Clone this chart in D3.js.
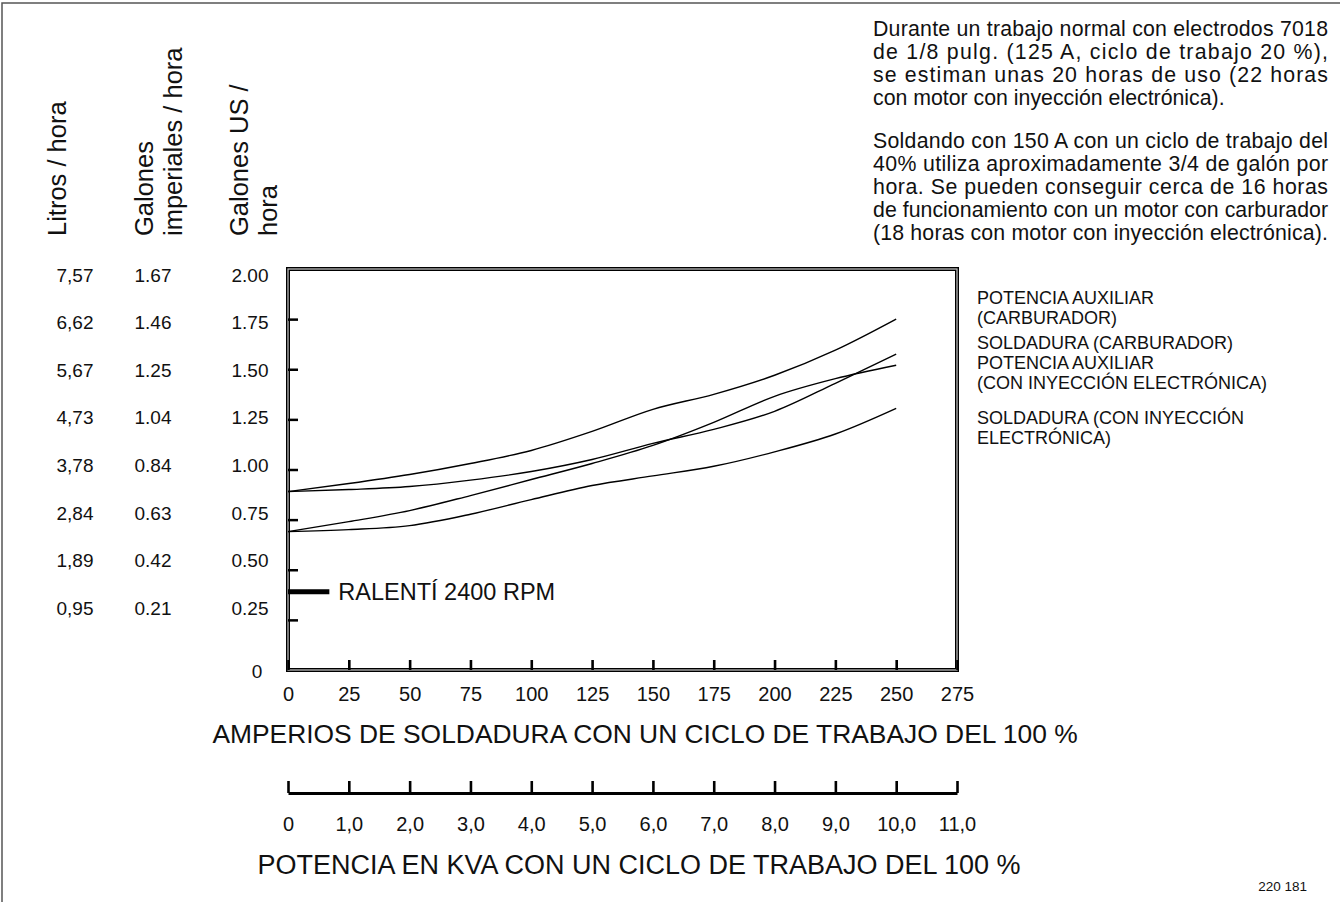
<!DOCTYPE html>
<html>
<head>
<meta charset="utf-8">
<script src="https://cdn.jsdelivr.net/npm/d3@7"></script>
<style>
  html, body { margin: 0; padding: 0; background: #fff; }
  svg { display: block; font-family: "Liberation Sans", Arial, sans-serif; }
</style>
</head>
<body>
<svg id="chart" width="1340" height="902"></svg>
<script>
// ---------------- DATA ----------------
const amps = [0, 25, 50, 75, 100, 125, 150, 175, 200, 225, 250];
const auxCarb   = [0.89, 0.93, 0.975, 1.03, 1.095, 1.19, 1.30, 1.375, 1.47, 1.595, 1.75];
const weldCarb  = [0.89, 0.90, 0.915, 0.947, 0.99, 1.05, 1.13, 1.20, 1.29, 1.43, 1.575];
const auxEfi    = [0.69, 0.74, 0.795, 0.87, 0.95, 1.03, 1.12, 1.235, 1.365, 1.453, 1.52];
const weldEfi   = [0.69, 0.70, 0.72, 0.777, 0.85, 0.92, 0.968, 1.016, 1.088, 1.177, 1.305];

const idleValue = 0.39;          // gal US / h
const idleAmps = [0, 17];
const idleLabel = "RALENTÍ 2400 RPM";

const ampTicks = [0, 25, 50, 75, 100, 125, 150, 175, 200, 225, 250, 275];
const kvaTicks = [0, 1, 2, 3, 4, 5, 6, 7, 8, 9, 10, 11];
const kvaLabels = ["0", "1,0", "2,0", "3,0", "4,0", "5,0", "6,0", "7,0", "8,0", "9,0", "10,0", "11,0"];

const usValues = [2.00, 1.75, 1.50, 1.25, 1.00, 0.75, 0.50, 0.25, 0];
const usLabels = ["2.00", "1.75", "1.50", "1.25", "1.00", "0.75", "0.50", "0.25", "0"];
const litrosLabels = ["7,57", "6,62", "5,67", "4,73", "3,78", "2,84", "1,89", "0,95"];
const impLabels = ["1.67", "1.46", "1.25", "1.04", "0.84", "0.63", "0.42", "0.21"];
const innerTicks = [0.25, 0.5, 0.75, 1.0, 1.25, 1.5, 1.75];

const xTitle = "AMPERIOS DE SOLDADURA CON UN CICLO DE TRABAJO DEL 100 %";
const kvaTitle = "POTENCIA EN KVA CON UN CICLO DE TRABAJO DEL 100 %";

const legendLines = [
  ["POTENCIA AUXILIAR", "(CARBURADOR)"],
  ["SOLDADURA (CARBURADOR)"],
  ["POTENCIA AUXILIAR", "(CON INYECCIÓN ELECTRÓNICA)"],
  ["SOLDADURA (CON INYECCIÓN", "ELECTRÓNICA)"]
];

const para1 = [
  "Durante un trabajo normal con electrodos 7018",
  "de 1/8 pulg. (125 A, ciclo de trabajo 20 %),",
  "se estiman unas 20 horas de uso (22 horas",
  "con motor con inyección electrónica)."
];
const para2 = [
  "Soldando con 150 A con un ciclo de trabajo del",
  "40% utiliza aproximadamente 3/4 de galón por",
  "hora. Se pueden conseguir cerca de 16 horas",
  "de funcionamiento con un motor con carburador",
  "(18 horas con motor con inyección electrónica)."
];
const docNumber = "220 181";

// ---------------- LAYOUT ----------------
const svg = d3.select("#chart");
const X0 = 288, X1 = 957, Y0 = 670, Y1 = 269;

const x = d3.scaleLinear().domain([0, 275]).range([X0, X1]);
const y = d3.scaleLinear().domain([0, 2]).range([Y0, Y1]);
const kx = d3.scaleLinear().domain([0, 11]).range([X0, X1]);
// label rows on the left (slightly compressed vs. the tick positions, as in the original)
const labelY = d3.scaleLinear().domain([0.25, 2]).range([608, 275]);

// outer border (top + left)
svg.append("path")
  .attr("d", `M2,902 L2,3 L1340,3`)
  .attr("fill", "none").attr("stroke", "#555").attr("stroke-width", 1.5);

// ---- top-right paragraphs ----
const txtX = 873, txtW = 455;
const pg = svg.append("g").attr("font-size", 21.3).attr("fill", "#111");
para1.forEach((t, i) => {
  const el = pg.append("text").attr("x", txtX).attr("y", 36 + i * 23).text(t);
  if (i < para1.length - 1) el.attr("textLength", txtW).attr("lengthAdjust", "spacing");
});
para2.forEach((t, i) => {
  pg.append("text").attr("x", txtX).attr("y", 148 + i * 23).text(t)
    .attr("textLength", txtW).attr("lengthAdjust", "spacing");
});

// ---- rotated column headers ----
const hg = svg.append("g").attr("font-size", 25.5).attr("fill", "#111");
[["Litros / hora", 66], ["Galones", 153], ["imperiales / hora", 182], ["Galones US /", 248], ["hora", 277]]
  .forEach(([t, bx]) => {
    hg.append("text").attr("transform", `translate(${bx},236) rotate(-90)`).text(t);
  });

// ---- left value columns ----
const lg = svg.append("g").attr("font-size", 19).attr("fill", "#111").attr("text-anchor", "middle");
usValues.forEach((v, i) => {
  const yy = v === 0 ? y(0) + 1 : labelY(v);
  lg.append("text").attr("x", v === 0 ? 257 : 250).attr("y", yy).attr("dy", "0.35em").text(usLabels[i]);
  if (i < litrosLabels.length) {
    lg.append("text").attr("x", 75).attr("y", yy).attr("dy", "0.35em").text(litrosLabels[i]);
    lg.append("text").attr("x", 153).attr("y", yy).attr("dy", "0.35em").text(impLabels[i]);
  }
});

// ---- plot frame (double line look) ----
svg.append("rect").attr("x", X0).attr("y", Y1).attr("width", X1 - X0).attr("height", Y0 - Y1)
  .attr("fill", "none").attr("stroke", "#000").attr("stroke-width", 4);
svg.append("rect").attr("x", X0).attr("y", Y1).attr("width", X1 - X0).attr("height", Y0 - Y1)
  .attr("fill", "none").attr("stroke", "#c8c8c8").attr("stroke-width", 1.2);

// ---- inner y ticks ----
const yAxis = d3.axisRight(y).tickValues(innerTicks).tickSize(10).tickFormat("");
const yg = svg.append("g").attr("transform", `translate(${X0},0)`).call(yAxis);
yg.select(".domain").remove();
yg.selectAll(".tick line").attr("stroke", "#000").attr("stroke-width", 2.5);

// ---- amps axis: ticks inside pointing up, labels below ----
const xAxis = d3.axisBottom(x).tickValues(ampTicks).tickSizeInner(-10).tickSizeOuter(0)
  .tickPadding(17).tickFormat(d3.format("d"));
const xg = svg.append("g").attr("transform", `translate(0,${Y0})`).call(xAxis);
xg.select(".domain").remove();
xg.selectAll(".tick line").attr("stroke", "#000").attr("stroke-width", 2.6);
xg.selectAll(".tick text").attr("font-size", 20).attr("fill", "#111")
  .attr("font-family", "'Liberation Sans', Arial, sans-serif");

svg.append("text").attr("x", 645).attr("y", 743).attr("text-anchor", "middle")
  .attr("font-size", 26.4).attr("fill", "#111").text(xTitle);

// ---- KVA axis ----
const kAxis = d3.axisBottom(kx).tickValues(kvaTicks).tickSizeInner(-12).tickSizeOuter(0)
  .tickPadding(24).tickFormat((d, i) => kvaLabels[i]);
const kg = svg.append("g").attr("transform", `translate(0,793)`).call(kAxis);
kg.select(".domain").attr("stroke", "#000").attr("stroke-width", 3);
kg.selectAll(".tick line").attr("stroke", "#000").attr("stroke-width", 2.6);
kg.selectAll(".tick text").attr("font-size", 20).attr("fill", "#111")
  .attr("font-family", "'Liberation Sans', Arial, sans-serif");

svg.append("text").attr("x", 639).attr("y", 874).attr("text-anchor", "middle")
  .attr("font-size", 27).attr("fill", "#111").text(kvaTitle);

// ---- curves ----
const line = d3.line().x((d, i) => x(amps[i])).y(d => y(d)).curve(d3.curveMonotoneX);
[auxCarb, weldCarb, auxEfi, weldEfi].forEach(s => {
  svg.append("path").datum(s).attr("d", line)
    .attr("fill", "none").attr("stroke", "#000").attr("stroke-width", 1.4);
});

// ---- idle marker ----
svg.append("line").attr("x1", x(idleAmps[0])).attr("x2", x(idleAmps[1]))
  .attr("y1", y(idleValue)).attr("y2", y(idleValue))
  .attr("stroke", "#000").attr("stroke-width", 5);
svg.append("text").attr("x", x(idleAmps[1]) + 9).attr("y", y(idleValue)).attr("dy", "0.36em")
  .attr("font-size", 23.5).attr("fill", "#111").text(idleLabel);

// ---- legend text ----
const lgY = [[303.5, 323.5], [348.5], [368.5, 388.5], [423.5, 443.5]];
const leg = svg.append("g").attr("font-size", 18).attr("fill", "#111");
legendLines.forEach((lines, i) => {
  lines.forEach((t, j) => leg.append("text").attr("x", 977).attr("y", lgY[i][j]).text(t));
});

// ---- document number ----
svg.append("text").attr("x", 1307).attr("y", 891).attr("text-anchor", "end")
  .attr("font-size", 13.5).attr("fill", "#111").text(docNumber);
</script>
</body>
</html>
